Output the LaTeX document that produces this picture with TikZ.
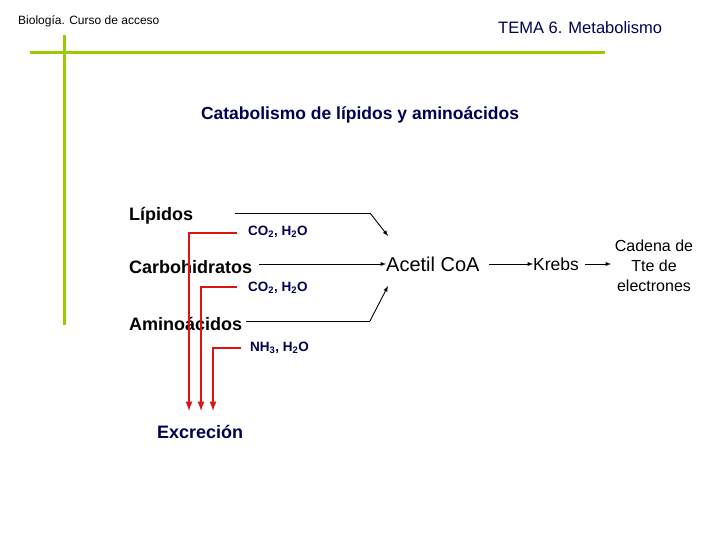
\documentclass[tikz,border=0pt]{standalone}
\usepackage{fontspec}
\setmainfont{Liberation Sans}
\definecolor{olive}{RGB}{153,204,0}
\definecolor{navy}{RGB}{0,0,80}
\definecolor{redl}{RGB}{220,20,20}
\begin{document}
\begin{tikzpicture}[x=1pt,y=-1pt,
 blk/.style={draw=black,line width=0.9pt,-latex},
 red/.style={draw=redl,line width=2.2pt,-{latex}},
 lbl/.style={inner sep=0pt,anchor=west,font=\fontsize{18}{20}\selectfont\bfseries},
 sub/.style={inner sep=0pt,anchor=west,font=\fontsize{13.5}{15}\selectfont\bfseries,text=navy}]
\useasboundingbox (0,0) rectangle (720,540);
\draw[olive,line width=3pt] (30,53) -- (605,53);
\draw[olive,line width=3pt] (64,35) -- (64,325);
\node[inner sep=0pt,anchor=west,font=\fontsize{12}{14}\selectfont] (h1) at (18,21) {Biología. Curso de acceso};
\node[inner sep=0pt,anchor=west,font=\fontsize{16.5}{18}\selectfont,text=navy] (h2) at (498,28) {TEMA 6. Metabolismo};
\node[inner sep=0pt,font=\fontsize{17.5}{20}\selectfont\bfseries,text=navy] (t) at (360,115) {Catabolismo de lípidos y aminoácidos};
\node[lbl] (lip) at (129,216) {Lípidos};
\node[lbl] (car) at (129,267) {Carbohidratos};
\node[lbl] (ami) at (129,324) {Aminoácidos};
\node[lbl,text=navy] (exc) at (157,432) {Excreción};
\node[sub] (s1) at (248,232) {CO\textsubscript{2}, H\textsubscript{2}O};
\node[sub] (s2) at (248,288) {CO\textsubscript{2}, H\textsubscript{2}O};
\node[sub] (s3) at (250,348) {NH\textsubscript{3}, H\textsubscript{2}O};
\node[inner sep=0pt,anchor=west,font=\fontsize{20}{22}\selectfont] (ac) at (386,264) {Acetil CoA};
\node[inner sep=0pt,anchor=west,font=\fontsize{17.5}{20}\selectfont] (kr) at (533,264) {Krebs};
\node[inner sep=0pt,align=center,font=\fontsize{16}{20}\selectfont] (cad) at (654,266) {Cadena de\\Tte de\\electrones};
\coordinate (c1) at (370,213); \coordinate (c2) at (370,321);
\draw[black,line width=0.9pt] (235,213) -- (c1);
\draw[blk] (c1) -- (388,236);
\draw[black,line width=0.9pt] (246,321) -- (c2);
\draw[blk] (c2) -- (388,286);
\draw[blk] (259,264) -- (ac.west);
\draw[blk] (489,264) -- (kr.west);
\draw[blk] (585,264) -- (611,264);
\draw[red] (237,233) -- (189,233) -- (189,411);
\draw[red] (237,287) -- (201,287) -- (201,411);
\draw[red] (241,348) -- (213,348) -- (213,411);
\end{tikzpicture}
\end{document}
